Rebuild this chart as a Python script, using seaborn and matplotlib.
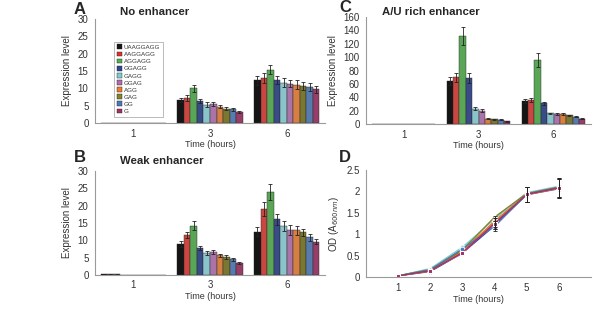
import numpy as np
import pandas as pd
import matplotlib
matplotlib.use("Agg")
import matplotlib.pyplot as plt
from matplotlib.patches import Patch
from matplotlib.container import BarContainer
import seaborn as sns

SEQUENCES = ["UAAGGAGG", "AAGGAGG", "AGGAGG", "GGAGG", "GAGG",
             "GGAG", "AGG", "GAG", "GG", "G"]
COLORS = ["#151515", "#e0302c", "#4db34a", "#2c4594", "#7fcbd3",
          "#b36bb0", "#ee7a2a", "#868226", "#4a79bb", "#a52f66"]
TIMES = ["1", "3", "6"]

# panel A - no enhancer (rows: time 1, 3, 6)
no_enh = [
    [0.1, 0.1, 0.1, 0.1, 0.1, 0.1, 0.1, 0.1, 0.1, 0.1],
    [6.7, 7.3, 10.0, 6.4, 5.3, 5.4, 4.7, 4.2, 4.0, 3.3],
    [12.3, 13.1, 15.4, 12.5, 11.7, 11.4, 11.1, 10.6, 10.4, 9.7],
]
no_enh_err = [
    [0, 0, 0, 0, 0, 0, 0, 0, 0, 0],
    [0.5, 0.8, 1.1, 0.6, 0.7, 0.6, 0.4, 0.4, 0.4, 0.3],
    [1.2, 1.4, 1.3, 1.2, 1.3, 1.1, 1.2, 1.2, 1.1, 1.1],
]

# panel B - weak enhancer
weak_enh = [
    [0.2, 0.2, 0.15, 0.05, 0.05, 0.05, 0.05, 0.05, 0.05, 0.05],
    [8.8, 11.5, 14.2, 7.7, 6.3, 6.6, 5.6, 5.1, 4.5, 3.4],
    [12.5, 19.0, 24.0, 16.0, 14.0, 13.0, 12.9, 12.3, 10.9, 9.6],
]
weak_enh_err = [
    [0.1, 0.1, 0.1, 0, 0, 0, 0, 0, 0, 0],
    [0.9, 1.0, 1.4, 0.6, 0.7, 0.7, 0.4, 0.6, 0.5, 0.4],
    [1.2, 2.0, 2.3, 1.5, 1.4, 1.4, 1.3, 1.0, 1.0, 0.8],
]

# panel C - A/U rich enhancer
au_enh = [
    [0.5, 0.5, 0.5, 0.5, 0.5, 0.5, 0.5, 0.5, 0.5, 0.5],
    [65, 70, 132, 69, 23, 20, 8, 7, 6.5, 4],
    [35, 36, 96, 31, 16, 15, 15, 13, 11, 8],
]
au_enh_err = [
    [0, 0, 0, 0, 0, 0, 0, 0, 0, 0],
    [6, 7, 13, 8, 2, 2, 1, 0.5, 0.5, 0.5],
    [3, 3, 10, 2, 1, 1, 1, 1, 1, 0.5],
]

# panel D - growth (OD600)
growth_t = [1, 2, 3, 4, 5, 6]
growth_od = [
    [0.03, 0.15, 0.62, 1.25, 1.93, 2.08],
    [0.03, 0.17, 0.60, 1.30, 1.94, 2.09],
    [0.03, 0.19, 0.65, 1.38, 1.95, 2.10],
    [0.03, 0.13, 0.56, 1.20, 1.92, 2.06],
    [0.03, 0.20, 0.70, 1.35, 1.97, 2.12],
    [0.03, 0.16, 0.55, 1.28, 1.93, 2.08],
    [0.03, 0.14, 0.60, 1.30, 1.92, 2.07],
    [0.03, 0.18, 0.63, 1.40, 1.95, 2.10],
    [0.03, 0.17, 0.66, 1.18, 1.94, 2.09],
    [0.03, 0.15, 0.57, 1.25, 1.93, 2.08],
]
growth_err = [0.0, 0.02, 0.05, 0.12, 0.18, 0.22]

plt.rcParams["font.family"] = ["Liberation Sans", "DejaVu Sans"]
sns.set_style("white")
plt.rcParams["font.family"] = ["Liberation Sans", "DejaVu Sans"]

TXT = "#333333"
SPINE = "#9a9a9a"


def long_df(values):
    rows = []
    for ti, t in enumerate(TIMES):
        for si, s in enumerate(SEQUENCES):
            rows.append({"time": t, "seq": s, "val": values[ti][si]})
    return pd.DataFrame(rows)


def style_axes(ax):
    sns.despine(ax=ax)
    for side in ("left", "bottom"):
        ax.spines[side].set_color(SPINE)
        ax.spines[side].set_linewidth(0.8)
    ax.tick_params(axis="both", labelsize=7, colors=TXT, length=2.5,
                   width=0.6, color=SPINE, pad=2)


def bar_panel(ax, values, errs, ymax, ystep):
    df = long_df(values)
    sns.barplot(data=df, x="time", y="val", hue="seq", hue_order=SEQUENCES,
                palette=COLORS, errorbar=None, width=0.85, ax=ax,
                edgecolor="#222222", linewidth=0.3, legend=False)
    bar_conts = [c for c in ax.containers if isinstance(c, BarContainer)]
    for si, cont in enumerate(bar_conts):
        for ti, bar in enumerate(cont):
            e = errs[ti][si]
            if e > 0:
                ax.errorbar(bar.get_x() + bar.get_width() / 2, bar.get_height(),
                            yerr=e, fmt="none", ecolor="#222222",
                            elinewidth=0.6, capsize=1.3, capthick=0.6)
    ax.set_ylim(0, ymax)
    ax.set_yticks(np.arange(0, ymax + 0.1, ystep))
    ax.set_xlim(-0.5, 2.5)
    style_axes(ax)
    ax.set_xticks([-0.5, 0.5, 1.5, 2.5], minor=True)
    ax.tick_params(axis="x", which="major", length=0, pad=4)
    ax.tick_params(axis="x", which="minor", length=3, width=0.6, color=SPINE)
    ax.set_xlabel("Time (hours)", fontsize=6.5, color=TXT, labelpad=1)
    ax.set_ylabel("Expression level", fontsize=7, color=TXT, labelpad=4)


fig = plt.figure(figsize=(6.0, 3.23), dpi=100)
fig.patch.set_facecolor("white")

ax_a = fig.add_axes([0.158, 0.619, 0.384, 0.322])
ax_b = fig.add_axes([0.158, 0.149, 0.384, 0.322])
ax_c = fig.add_axes([0.610, 0.616, 0.375, 0.331])
ax_d = fig.add_axes([0.610, 0.142, 0.375, 0.332])

bar_panel(ax_a, no_enh, no_enh_err, 30, 5)
bar_panel(ax_b, weak_enh, weak_enh_err, 30, 5)
bar_panel(ax_c, au_enh, au_enh_err, 160, 20)

handles = [Patch(facecolor=c, edgecolor="#222222", linewidth=0.3) for c in COLORS]
leg = ax_a.legend(handles, SEQUENCES, loc="upper left", bbox_to_anchor=(0.085, 0.78),
                  fontsize=4.5, frameon=True, fancybox=False, handlelength=0.8,
                  handleheight=0.8, handletextpad=0.3, labelspacing=0.25,
                  borderpad=0.4, borderaxespad=0)
leg.get_frame().set_edgecolor("#888888")
leg.get_frame().set_linewidth(0.5)
for t in leg.get_texts():
    t.set_color(TXT)

# panel D growth curves
rows = []
for si, s in enumerate(SEQUENCES):
    for ti, t in enumerate(growth_t):
        rows.append({"time": t, "seq": s, "od": growth_od[si][ti]})
gdf = pd.DataFrame(rows)
sns.lineplot(data=gdf, x="time", y="od", hue="seq", hue_order=SEQUENCES,
             palette=COLORS, style="seq", markers=["o", "s", "D", "^", "o", "s",
                                                  "D", "^", "o", "s"],
             dashes=False, markersize=3.5, linewidth=0.9, legend=False, ax=ax_d)
for si in range(len(SEQUENCES)):
    if si % 3 == 0:
        ax_d.errorbar(growth_t[3:], growth_od[si][3:], yerr=growth_err[3:],
                      fmt="none", ecolor="#222222", elinewidth=0.6,
                      capsize=1.3, capthick=0.6)
ax_d.set_xlim(0, 7)
ax_d.set_ylim(0, 2.5)
ax_d.set_xticks(growth_t)
ax_d.set_yticks([0, 0.5, 1, 1.5, 2, 2.5])
ax_d.set_yticklabels(["0", "0.5", "1", "1.5", "2", "2.5"])
style_axes(ax_d)
ax_d.set_xlabel("Time (hours)", fontsize=6.5, color=TXT, labelpad=1)
ax_d.set_ylabel(r"OD (A$_{600nm}$)", fontsize=7, color=TXT, labelpad=4)

# panel letters and titles
fig.text(74 / 600, 1 - 9 / 323, "A", fontsize=12, fontweight="bold", va="center")
fig.text(120 / 600, 1 - 12 / 323, "No enhancer", fontsize=8.2, fontweight="bold", va="center")
fig.text(74 / 600, 1 - 157 / 323, "B", fontsize=12, fontweight="bold", va="center")
fig.text(120 / 600, 1 - 161 / 323, "Weak enhancer", fontsize=8.2, fontweight="bold", va="center")
fig.text(339 / 600, 1 - 7 / 323, "C", fontsize=12, fontweight="bold", va="center")
fig.text(382 / 600, 1 - 12 / 323, "A/U rich enhancer", fontsize=8.2, fontweight="bold", va="center")
fig.text(339 / 600, 1 - 157 / 323, "D", fontsize=12, fontweight="bold", va="center")

fig.savefig("out.png", dpi=100, facecolor="white")
